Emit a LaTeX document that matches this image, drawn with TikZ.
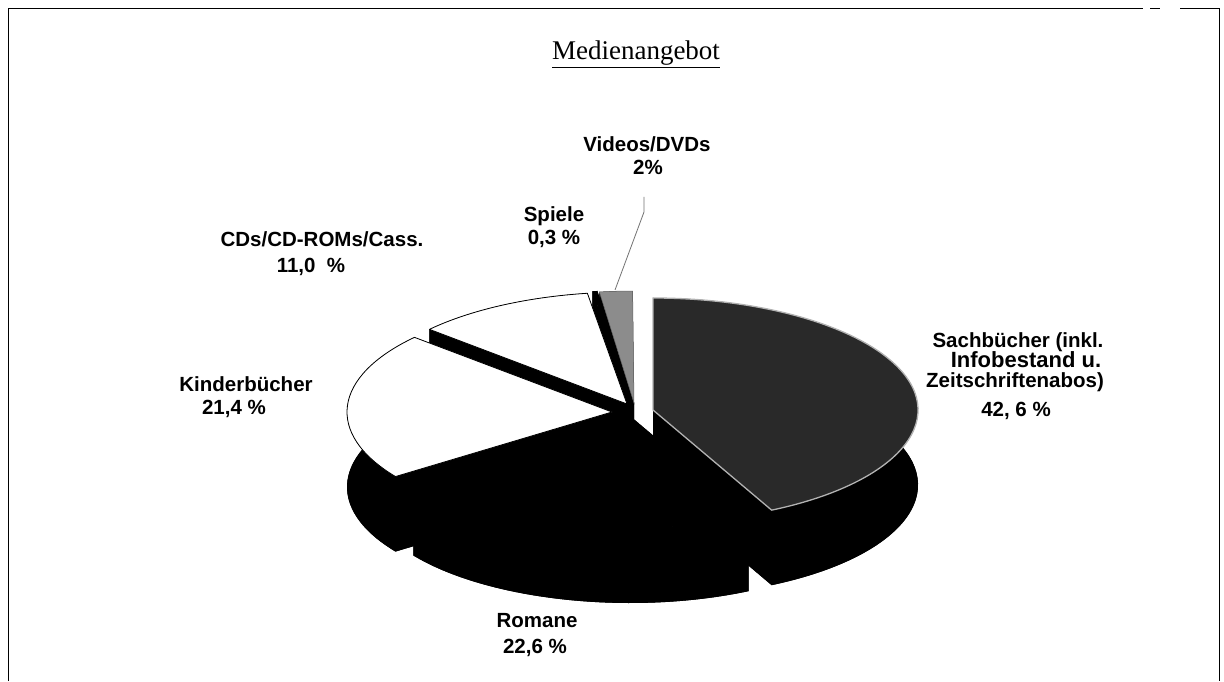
\documentclass[tikz,border=0pt]{standalone}
\usepackage{fontspec}
\setmainfont{Liberation Serif}
\newfontfamily\lsans{Liberation Sans}
\usetikzlibrary{calc}
\newcommand{\pieslice}[5]{%
  \coordinate (C) at (#1,#2);
  \fill[sidefill] ([yshift=-75pt]C) -- ++(#3:265pt and 112pt) arc[start angle=#3, end angle=#4, x radius=265pt, y radius=112pt] -- cycle;
  \fill[sidefill] ($(C)+(#3:265pt and 112pt)$) arc[start angle=#3, end angle=#4, x radius=265pt, y radius=112pt] -- ++(0,-75pt) arc[start angle=#4, end angle=#3, x radius=265pt, y radius=112pt] -- cycle;
  \fill[sidefill] (C) -- ++(#3:265pt and 112pt) -- ++(0,-75pt) -- ([yshift=-75pt]C) -- cycle;
  \fill[sidefill] (C) -- ++(#4:265pt and 112pt) -- ++(0,-75pt) -- ([yshift=-75pt]C) -- cycle;
  \path[#5] (C) -- ++(#3:265pt and 112pt) arc[start angle=#3, end angle=#4, x radius=265pt, y radius=112pt] -- cycle;
}
\begin{document}
\begin{tikzpicture}[x=1pt,y=1pt,
  sidefill/.style={fill=black},
  whitetop/.style={fill=white,draw=black,line width=0.8pt,line join=round},
  blacktop/.style={fill=black},
  sachtop/.style={fill=black!84,draw=black!30,line width=1.3pt,line join=round},
  videotop/.style={fill=black!45,draw=black!60,line width=0.5pt},
  lbl/.style={font=\lsans\bfseries\fontsize{20.5}{24}\selectfont,anchor=base,inner sep=0pt},
  lblbig/.style={font=\lsans\bfseries\fontsize{22}{26}\selectfont,anchor=base,inner sep=0pt},
  frame/.style={line width=1pt,draw=black},
  leader/.style={draw=black!55,line width=0.8pt}]
\useasboundingbox (0,0) rectangle (1224,681);
\fill[white] (0,0) rectangle (1224,681);
% frame
\draw[frame] (8,0) -- (8,672) -- (1143,672);
\draw[frame] (1150,672) -- (1160,672);
\draw[frame] (1180,672) -- (1219,672) -- (1219,0);
% title
\node[font=\fontsize{27}{32}\selectfont,anchor=base,inner sep=0pt] (title) at (636,621) {\underline{Medienangebot}};
% slices back to front
\pieslice{634}{278}{90.3}{97.5}{videotop}
\pieslice{632}{279}{97.5}{98.6}{blacktop}
\pieslice{627}{277}{98.6}{138.2}{whitetop}
\pieslice{612}{269}{138.2}{215.2}{whitetop}
\pieslice{653}{271}{-63.4}{90}{sachtop}
\pieslice{630}{265}{-144.8}{-63.4}{blacktop}
% labels
\node[lbl] (vid1) at (647,529) {Videos/DVDs};
\node[lbl] (vid2) at (648,506) {2\%};
\node[lbl] (spi1) at (554,459) {Spiele};
\node[lbl] (spi2) at (554,436) {0,3 \%};
\node[lbl] (cds1) at (322,434) {CDs/CD-ROMs/Cass.};
\node[lbl] (cds2) at (311,408) {11,0\ \ \%};
\node[lbl] (kin1) at (246,289) {Kinderbücher};
\node[lbl] (kin2) at (234,266) {21,4 \%};
\node[lbl] (sac1) at (1018,333) {Sachbücher (inkl.};
\node[lblbig] (sac2) at (1026,313) {Infobestand u.};
\node[lbl] (sac3) at (1015,293) {Zeitschriftenabos)};
\node[lbl] (sac4) at (1016,264) {42, 6 \%};
\node[lbl] (rom1) at (537,54) {Romane};
\node[lbl] (rom2) at (535,28) {22,6 \%};
% leader for Videos
\coordinate (ldA) at (644,484);
\coordinate (ldB) at (644,469);
\coordinate (ldC) at (615,391);
\draw[leader] (ldA) -- (ldB) -- (ldC);
\end{tikzpicture}
\end{document}
